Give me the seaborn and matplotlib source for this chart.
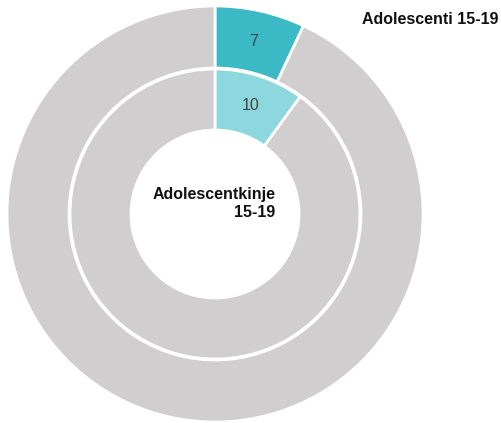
import numpy as np
import matplotlib
matplotlib.use("Agg")
import matplotlib.pyplot as plt
import seaborn as sns

# data
outer_label = "Adolescenti 15-19"
inner_label = "Adolescentkinje\n15-19"
outer_values = [7, 93]
inner_values = [10, 90]
outer_colors = ["#3BBAC6", "#D0CECF"]
inner_colors = ["#8DD8DE", "#D0CECF"]

sns.set_theme(style="white")
plt.rcParams['font.family'] = ['Liberation Sans', 'DejaVu Sans']

fig = plt.figure(figsize=(5.01, 4.23), dpi=100)
# axes placed so the pie fills the left part of the figure
ax = fig.add_axes([7 / 501, 1 / 423, 416 / 501, 416 / 423])

r_out = 1.0
r_mid = 145 / 208
w_out = 62 / 208
w_in = 61 / 208

ax.pie(outer_values, radius=r_out, colors=outer_colors, startangle=90,
       counterclock=False,
       wedgeprops=dict(width=w_out, edgecolor="white", linewidth=2))
ax.pie(inner_values, radius=r_mid, colors=inner_colors, startangle=90,
       counterclock=False,
       wedgeprops=dict(width=w_in, edgecolor="white", linewidth=2))

# value labels in the middle of the highlighted wedges
def mid_point(values, radius):
    ang = np.deg2rad(90 - 360 * values[0] / sum(values) / 2)
    return radius * np.cos(ang), radius * np.sin(ang)

x, y = mid_point(outer_values, r_out - w_out / 2)
ax.text(x, y, str(outer_values[0]), ha="center", va="center", fontsize=11.5, color="#444444")
x, y = mid_point(inner_values, r_mid - w_in / 2)
ax.text(x, y, str(inner_values[0]), ha="center", va="center", fontsize=11.5, color="#444444")

ax.text(0.29, 0.05, inner_label, ha="right", va="center", multialignment="right",
        fontsize=11.5, fontweight="semibold", color="#111111", linespacing=1.25)
ax.set_xlim(-1, 1)
ax.set_ylim(-1, 1)
ax.set_aspect("equal")

fig.text(499 / 501, 1 - 20 / 423, outer_label, ha="right", va="center",
         fontsize=11.5, fontweight="semibold", color="#111111")

fig.savefig("out.png", dpi=100)
